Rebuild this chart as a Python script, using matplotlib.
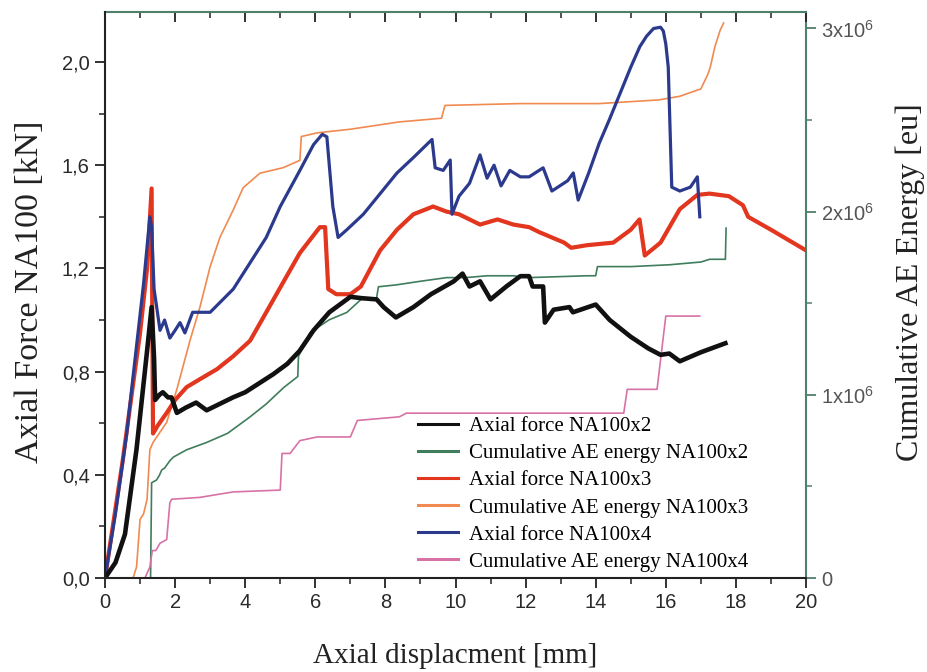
import matplotlib
matplotlib.use("Agg")
import matplotlib.pyplot as plt
from matplotlib.ticker import MultipleLocator

# ---------------- data ----------------
x_f2 = [0, 0.3, 0.57, 0.9, 1.2, 1.33, 1.40, 1.43, 1.55, 1.65, 1.8, 1.9, 2.05, 2.3, 2.6, 2.9, 3.2, 3.65,
        4.0, 4.4, 4.8, 5.2, 5.55, 5.95, 6.4, 7.0, 7.3, 7.75, 7.95, 8.3, 8.8, 9.3, 9.95, 10.2, 10.4,
        10.7, 11.0, 11.45, 11.85, 12.1, 12.2, 12.5, 12.55, 12.8, 13.25, 13.35, 14.0, 14.4, 15.0, 15.5,
        15.85, 16.1, 16.4, 17.0, 17.7]
f_2 = [0, 0.06, 0.17, 0.50, 0.88, 1.05, 0.85, 0.69, 0.71, 0.72, 0.70, 0.70, 0.64, 0.66, 0.68, 0.65, 0.67,
       0.70, 0.72, 0.755, 0.79, 0.83, 0.88, 0.96, 1.03, 1.09, 1.085, 1.08, 1.05, 1.01, 1.05, 1.10, 1.15,
       1.18, 1.13, 1.15, 1.08, 1.13, 1.17, 1.17, 1.13, 1.13, 0.99, 1.04, 1.05, 1.03, 1.06, 1.00, 0.935,
       0.89, 0.865, 0.87, 0.84, 0.875, 0.91]

x_f3 = [0, 0.5, 1.0, 1.2, 1.33, 1.35, 1.37, 1.5, 1.76, 2.0, 2.33, 2.7, 3.2, 3.66, 4.14, 4.6, 5.1, 5.56,
        6.13, 6.28, 6.37, 6.6, 7.0, 7.3, 7.85, 8.33, 8.8, 9.36, 9.75, 10.1, 10.7, 11.2, 11.65, 12.1,
        12.4, 13.1, 13.3, 13.75, 14.5, 15.0, 15.25, 15.4, 15.85, 16.4, 16.9, 17.25, 17.8, 18.2, 18.35,
        19.0, 20.0]
f_3 = [0, 0.45, 0.95, 1.2, 1.51, 1.0, 0.56, 0.59, 0.64, 0.69, 0.74, 0.77, 0.81, 0.86, 0.92, 1.03, 1.15,
       1.26, 1.36, 1.36, 1.12, 1.10, 1.10, 1.13, 1.27, 1.35, 1.41, 1.44, 1.42, 1.41, 1.37, 1.39, 1.37,
       1.36, 1.34, 1.30, 1.28, 1.29, 1.30, 1.35, 1.39, 1.25, 1.30, 1.43, 1.485, 1.49, 1.48, 1.445, 1.40,
       1.35, 1.27]

x_f4 = [0, 0.3, 0.62, 0.8, 1.1, 1.28, 1.33, 1.40, 1.57, 1.7, 1.85, 2.0, 2.14, 2.28, 2.5, 3.0, 3.66, 4.6,
        5.0, 5.56, 5.95, 6.2, 6.33, 6.5, 6.65, 6.9, 7.37, 7.85, 8.33, 8.8, 9.33, 9.42, 9.65, 9.85, 9.9,
        10.1, 10.4, 10.7, 10.9, 11.1, 11.3, 11.55, 11.85, 12.1, 12.5, 12.75, 13.2, 13.36, 13.5, 13.8,
        14.1, 14.4, 14.7, 15.0, 15.26, 15.45, 15.65, 15.85, 15.93, 16.0, 16.07, 16.17, 16.4, 16.7,
        16.9, 16.97]
f_4 = [0, 0.25, 0.56, 0.78, 1.14, 1.40, 1.36, 1.12, 0.96, 1.0, 0.93, 0.96, 0.99, 0.95, 1.03, 1.03, 1.12,
       1.32, 1.44, 1.58, 1.68, 1.72, 1.71, 1.44, 1.32, 1.35, 1.41, 1.49, 1.57, 1.63, 1.70, 1.59, 1.58,
       1.62, 1.41, 1.48, 1.53, 1.64, 1.55, 1.60, 1.52, 1.58, 1.555, 1.555, 1.59, 1.50, 1.54, 1.57, 1.465,
       1.57, 1.685, 1.78, 1.88, 1.98, 2.06, 2.10, 2.13, 2.135, 2.12, 2.07, 1.98, 1.515, 1.50, 1.515,
       1.555, 1.40]

x_e2 = [1.28, 1.3, 1.33, 1.47, 1.55, 1.62, 1.7, 1.85, 1.95, 2.33, 2.9, 3.5, 4.14, 4.6, 5.1, 5.5, 5.52,
        5.85, 6.4, 6.9, 7.3, 7.75, 7.8, 8.3, 9.0, 9.75, 10.3, 10.9, 11.65, 12.1, 13.75, 14.0, 14.05,
        15.0, 16.1, 17.0, 17.25, 17.7, 17.72]
e_2 = [0, 0.0, 0.52, 0.535, 0.56, 0.59, 0.60, 0.64, 0.66, 0.70, 0.74, 0.79, 0.88, 0.95, 1.04, 1.10, 1.21,
       1.34, 1.41, 1.45, 1.52, 1.53, 1.59, 1.60, 1.62, 1.64, 1.64, 1.65, 1.65, 1.64, 1.65, 1.65, 1.70,
       1.70, 1.71, 1.725, 1.74, 1.74, 1.91]

x_e3 = [0.8, 0.9, 1.0, 1.1, 1.2, 1.28, 1.37, 1.76, 2.05, 2.43, 2.71, 3.0, 3.28, 3.66, 3.94, 4.42, 5.08,
        5.56, 5.6, 6.05, 7.0, 8.4, 9.6, 9.7, 11.85, 14.1, 15.8, 16.4, 17.0, 17.2, 17.27, 17.4, 17.55, 17.65]
e_3 = [0, 0.06, 0.32, 0.35, 0.43, 0.70, 0.74, 0.85, 1.03, 1.30, 1.48, 1.70, 1.86, 2.01, 2.13, 2.21, 2.24,
       2.28, 2.41, 2.43, 2.45, 2.49, 2.51, 2.58, 2.59, 2.59, 2.61, 2.63, 2.67, 2.75, 2.79, 2.90, 2.99, 3.03]

x_e4 = [1.0, 1.14, 1.28, 1.35, 1.45, 1.57, 1.76, 1.85, 1.9, 2.7, 3.66, 5.0, 5.05, 5.28, 5.56, 6.05, 7.0,
        7.2, 8.4, 8.6, 11.85, 13.9, 14.8, 14.9, 15.75, 16.0, 16.97]
e_4 = [0, 0, 0.06, 0.15, 0.15, 0.19, 0.21, 0.41, 0.43, 0.44, 0.47, 0.48, 0.68, 0.68, 0.75, 0.77, 0.77,
       0.86, 0.88, 0.90, 0.90, 0.90, 0.90, 1.03, 1.03, 1.43, 1.43]
e_scale = 1e6

labels = ["Axial force NA100x2", "Cumulative AE energy NA100x2", "Axial force NA100x3",
          "Cumulative AE energy NA100x3", "Axial force NA100x4", "Cumulative AE energy NA100x4"]
x_ticks = [0, 2, 4, 6, 8, 10, 12, 14, 16, 18, 20]
x_ticklabels = ["0", "2", "4", "6", "8", "10", "12", "14", "16", "18", "20"]
left_ticks = [0.0, 0.4, 0.8, 1.2, 1.6, 2.0]
left_ticklabels = ["0,0", "0,4", "0,8", "1,2", "1,6", "2,0"]
right_ticks = [0, 1e6, 2e6, 3e6]
right_ticklabels = ["0", r"$\mathregular{1x10^6}$", r"$\mathregular{2x10^6}$", r"$\mathregular{3x10^6}$"]

# ---------------- style ----------------
c_black = "#111111"
c_green = "#3f7d5c"
c_red = "#e2361f"
c_orange = "#f08a50"
c_blue = "#2c3a8e"
c_pink = "#d872a6"
c_spine2 = "#4f806c"
serif = ["Liberation Serif", "DejaVu Serif"]
sans = ["Liberation Sans", "DejaVu Sans"]

fig = plt.figure(figsize=(9.28, 6.72), dpi=100)
ax1 = fig.add_axes([105 / 928, 1 - 578 / 672, 701 / 928, 566 / 672])
ax2 = ax1.twinx()
ax1.set_zorder(ax2.get_zorder() + 1)
ax1.patch.set_visible(False)

h_e2, = ax2.plot(x_e2, [v * e_scale for v in e_2], color=c_green, lw=1.2)
h_e3, = ax2.plot(x_e3, [v * e_scale for v in e_3], color=c_orange, lw=1.2)
h_e4, = ax2.plot(x_e4, [v * e_scale for v in e_4], color=c_pink, lw=1.2)
h_f3, = ax1.plot(x_f3, f_3, color=c_red, lw=3.0, solid_joinstyle="round")
h_f4, = ax1.plot(x_f4, f_4, color=c_blue, lw=2.3, solid_joinstyle="round")
h_f2, = ax1.plot(x_f2, f_2, color=c_black, lw=3.3, solid_joinstyle="round")

ax1.set_xlim(0, 20)
ax1.set_ylim(0, 2.194)
ax2.set_ylim(0, 3.09e6)

ax1.set_xticks(x_ticks)
ax1.set_xticklabels(x_ticklabels)
ax1.xaxis.set_minor_locator(MultipleLocator(1))
ax1.set_yticks(left_ticks)
ax1.set_yticklabels(left_ticklabels)
ax1.yaxis.set_minor_locator(MultipleLocator(0.2))
ax2.set_yticks(right_ticks)
ax2.set_yticklabels(right_ticklabels)
ax2.yaxis.set_minor_locator(MultipleLocator(0.5e6))

for lab in ax1.get_xticklabels() + ax1.get_yticklabels() + ax2.get_yticklabels():
    lab.set_family(sans)
    lab.set_fontsize(14.5)
for lab in ax1.get_xticklabels() + ax1.get_yticklabels():
    lab.set_color("#2a2a2a")
for lab in ax2.get_yticklabels():
    lab.set_color("#555555")

ax1.tick_params(axis="both", which="major", direction="out", length=7, width=1.3, color="#222222", pad=4)
ax1.tick_params(axis="both", which="minor", direction="out", length=4, width=1.1, color="#222222")
ax2.tick_params(axis="y", which="major", direction="out", length=7, width=1.3, color=c_spine2, pad=4)
ax2.tick_params(axis="y", which="minor", direction="out", length=4, width=1.1, color=c_spine2)

top = ax1.secondary_xaxis("top")
top.set_xticks(x_ticks)
top.xaxis.set_minor_locator(MultipleLocator(1))
top.tick_params(which="major", direction="in", length=7, width=1.3, color="#222222", labeltop=False)
top.tick_params(which="minor", direction="in", length=4, width=1.1, color="#222222")
top.spines["top"].set_color(c_spine2)
top.spines["top"].set_linewidth(1.5)

for ax in (ax1, ax2):
    for s in ax.spines.values():
        s.set_linewidth(1.5)
ax1.spines["left"].set_color("#222222")
ax1.spines["bottom"].set_color("#222222")
ax1.spines["top"].set_visible(False)
ax1.spines["right"].set_visible(False)
ax2.spines["right"].set_color(c_spine2)
ax2.spines["top"].set_visible(False)
ax2.spines["left"].set_visible(False)
ax2.spines["bottom"].set_visible(False)

ax1.set_xlabel("Axial displacment [mm]", family=serif, fontsize=21, color="#222222", labelpad=22)
ax1.set_ylabel("Axial Force NA100 [kN]", family=serif, fontsize=24.5, color="#222222")
ax1.yaxis.set_label_coords(-0.086, 0.505)
ax2.set_ylabel("Cumulative AE Energy [eu]", family=serif, fontsize=23, color="#222222")
ax2.yaxis.set_label_coords(1.127, 0.522)

handles = [h_f2, h_e2, h_f3, h_e3, h_f4, h_e4]
leg = ax1.legend(handles, labels, loc="upper left", bbox_to_anchor=(0.4465, 0.285), frameon=False,
                 prop={"family": serif, "size": 15}, handlelength=1.9, handletextpad=0.55,
                 labelspacing=0.36, borderpad=0, borderaxespad=0)
for lh in leg.get_lines():
    lh.set_linewidth(2.2)

fig.savefig("out.png", dpi=100)
